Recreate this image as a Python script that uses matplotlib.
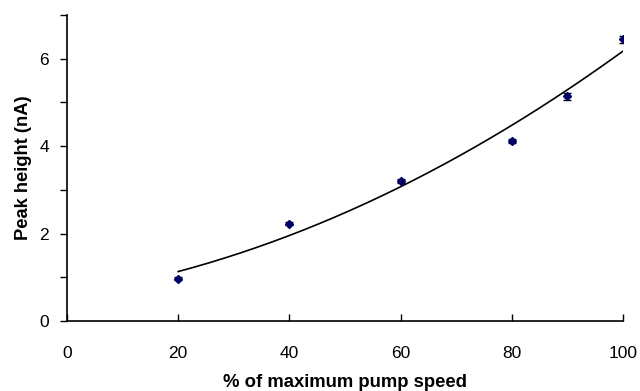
import numpy as np
import matplotlib
matplotlib.use("Agg")
import matplotlib.pyplot as plt

plt.rcParams['font.family'] = ['Liberation Sans', 'DejaVu Sans']

pump_speed = [20, 40, 60, 80, 90, 100]
peak_height = [0.97, 2.23, 3.20, 4.12, 5.14, 6.44]
peak_err = [0.04, 0.04, 0.04, 0.04, 0.08, 0.09]

x_ticks = [0, 20, 40, 60, 80, 100]
y_ticks = [0, 1, 2, 3, 4, 5, 6, 7]
y_labels = ['0', '', '2', '', '4', '', '6', '']

fig = plt.figure(figsize=(6.4, 3.91), dpi=100)
ax = fig.add_axes([0.1047, 0.179, 0.8687, 0.7826])

coef = np.polyfit(pump_speed, peak_height, 2)
xf = np.linspace(min(pump_speed), max(pump_speed), 200)
ax.plot(xf, np.polyval(coef, xf), color='black', lw=1.2, zorder=2)

ax.errorbar(pump_speed, peak_height, yerr=peak_err, fmt='D', ms=4.5,
            mfc='#000066', mec='#000066', ecolor='black', elinewidth=1,
            capsize=3, capthick=1, zorder=3)

ax.set_xlim(0, 100)
ax.set_ylim(0, 7)
ax.spines['top'].set_visible(False)
ax.spines['right'].set_visible(False)
for s in ['left', 'bottom']:
    ax.spines[s].set_linewidth(1.2)

ax.set_xticks(x_ticks)
ax.set_xticklabels([str(v) for v in x_ticks])
ax.set_yticks(y_ticks)
ax.set_yticklabels(y_labels)
ax.tick_params(axis='x', direction='in', length=5, width=1, labelsize=12.5, pad=18)
ax.tick_params(axis='y', direction='out', length=5, width=1, labelsize=12.5, pad=8)

ax.set_xlabel('% of maximum pump speed', fontsize=13.3, fontweight='bold', labelpad=9)
ax.set_ylabel('Peak height (nA)', fontsize=13.2, fontweight='bold', labelpad=5)

fig.savefig('out.png', dpi=100)
